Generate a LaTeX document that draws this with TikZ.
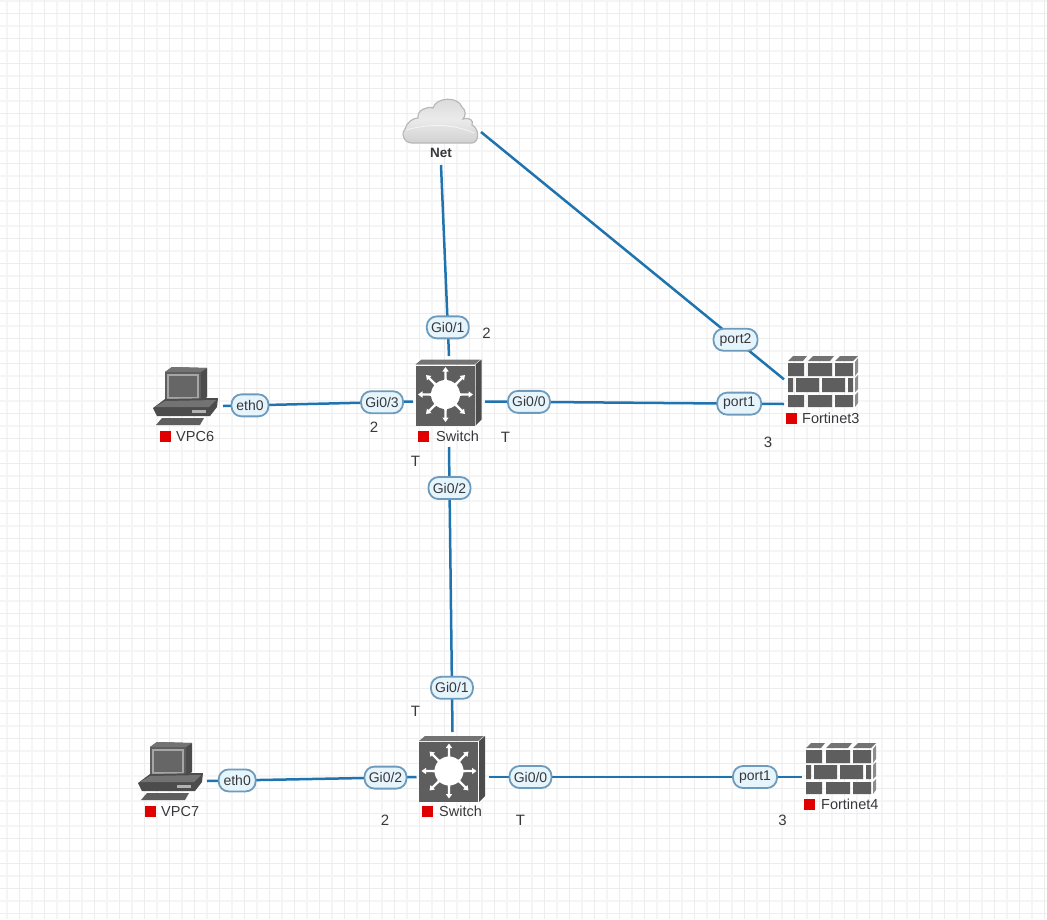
\documentclass[tikz,border=0pt]{standalone}
\usepackage{fontspec}
\setmainfont{Liberation Sans}
\usepackage{xcolor}

\definecolor{linkblue}{HTML}{1F74B0}
\definecolor{portedge}{HTML}{6E9BBB}
\definecolor{portfill}{HTML}{E6F4FC}
\definecolor{icondark}{HTML}{5E5E5E}
\definecolor{iconmid}{HTML}{737373}
\definecolor{iconside}{HTML}{4C4C4C}
\definecolor{ledred}{HTML}{E00000}
\definecolor{inktext}{HTML}{38383C}

\tikzset{
  gridminor/.style={draw=black!4, line width=1.2pt},
  gridmajor/.style={draw=black!7, line width=1.5pt},
  devbox/.style={inner sep=0pt, outer sep=0pt, minimum width=#1},
  link/.style={draw=linkblue, line width=2.5pt},
  portlab/.style={draw=portedge, fill=portfill, line width=1.8pt, rounded corners=10pt, inner sep=0pt, minimum height=22pt, minimum width=42pt, text=inktext, font=\fontsize{14}{16}\selectfont},
  devlab/.style={inner sep=0pt, text=inktext, anchor=west, font=\fontsize{14.5}{16}\selectfont},
  ledbox/.style={fill=ledred, inner sep=0pt, minimum size=11pt},
  vlanlab/.style={inner sep=0pt, text=inktext, font=\fontsize{15}{17}\selectfont},
  pics/swicon/.style={code={
    \fill[iconmid] (-30,-30) -- (-24,-35) -- (35,-35) -- (29,-30) -- cycle;
    \fill[iconside] (30,-30) -- (36,-35) -- (36,25) -- (30,31) -- cycle;
    \fill[icondark] (-30,-29) rectangle (29,31);
    \fill[white] (0,0) circle (14.5);
    \foreach \a in {0,45,...,315}
      \fill[white, rotate=\a] (13,-1.3) -- (23,-1.1) -- (23,-3.2) -- (27.5,0) -- (23,3.2) -- (23,1.1) -- (13,1.3) -- cycle;
  }},
  pics/brickrows/.style={code={
    \fill[icondark] (0,0) rectangle (16,13) (20,0) rectangle (44,13) (47,0) rectangle (65,13);
    \fill[icondark] (0,15) rectangle (5,29) (8,15) rectangle (31,29) (34,15) rectangle (57,29) (60,15) rectangle (65,29);
    \fill[icondark] (0,32) rectangle (16,44) (20,32) rectangle (44,44) (47,32) rectangle (65,44);
    \fill[iconmid] (0,-2) -- (5,-7) -- (19,-7) -- (15,-2) -- cycle;
    \fill[iconmid] (20,-2) -- (25,-7) -- (46,-7) -- (42,-2) -- cycle;
    \fill[iconmid] (47,-2) -- (52,-7) -- (70,-7) -- (65,-2) -- cycle;
    \fill[black!45] (67,-1) -- (70,-5) -- (70,9) -- (67,13) -- cycle;
    \fill[black!45] (67,15) -- (70,12) -- (70,26) -- (67,29) -- cycle;
    \fill[black!45] (67,32) -- (70,29) -- (70,40) -- (67,44) -- cycle;
  }},
  pics/pcicon/.style={code={
    \fill[iconside] (12,4) -- (19,-1) -- (54,0) -- (54,29) -- (49,33) -- (12,33) -- cycle;
    \fill[iconmid] (12,4) -- (19,-1) -- (54,0) -- (48,4) -- cycle;
    \fill[icondark] (12,4) rectangle (48,33);
    \fill[black!35] (14,6) rectangle (46,31);
    \fill[black!60] (16,8) rectangle (44,29);
    \fill[iconside] (0,40) -- (12,31) -- (65,30) -- (64,39) -- (57,48) -- (4,48) -- cycle;
    \fill[iconmid] (2,39) -- (12,33) -- (63,32) -- (56,39) -- cycle;
    \fill[black!30] (39,42) rectangle (53,45);
    \fill[icondark] (9,50) -- (51,50) -- (47,57) -- (3,57) -- cycle;
  }},
  pics/cloudicon/.style={code={
    \draw[draw=black!28, line width=1.2pt, top color=black!15, bottom color=black!18, middle color=black!8]
      (-29,0) .. controls (-38,0) and (-40,-11) .. (-36,-14)
      .. controls (-34,-21) and (-28,-25) .. (-23,-25)
      .. controls (-24,-33) and (-14,-37) .. (-8,-35)
      .. controls (-5,-46) and (17,-47) .. (21,-36)
      .. controls (25,-33) and (25,-27) .. (22,-24)
      .. controls (29,-26) and (33,-22) .. (31,-18)
      .. controls (39,-14) and (38,0) .. (31,0) -- cycle;
    \draw[black!4, line width=.8pt] (-35,-13) .. controls (-10,-20) and (12,-19) .. (33,-10);
  }}
}

\begin{document}
\begin{tikzpicture}[x=1pt, y=-1pt]
\useasboundingbox (0,0) rectangle (1047,919);

\foreach \gx in {7,32,...,1047} \draw[gridminor] (\gx,0) -- (\gx,919);
\foreach \gy in {1,26,...,919} \draw[gridminor] (0,\gy) -- (1047,\gy);
\foreach \gx in {19.5,44.5,...,1047} \draw[gridmajor] (\gx,0) -- (\gx,919);
\foreach \gy in {13.5,38.5,...,919} \draw[gridmajor] (0,\gy) -- (1047,\gy);

\node[devbox=80pt, minimum height=66pt] (net) at (441,132) {};
\node[devbox=72pt, minimum height=91pt] (sw1) at (449,401.5) {};
\node[devbox=72pt, minimum height=90pt] (sw2) at (452.5,777) {};
\node[devbox=76pt, minimum height=98pt] (fw3) at (822,404) {};
\node[devbox=76pt, minimum height=74pt] (fw4) at (840,777) {};
\node[devbox=70pt, minimum height=60pt] (pc6) at (188,406) {};
\node[devbox=70pt, minimum height=60pt] (pc7) at (172,781) {};

\pic at (441,143) {cloudicon};
\pic at (445.5,394.5) {swicon};
\pic at (449,771) {swicon};
\pic at (788,363) {brickrows};
\pic at (806,750) {brickrows};
\pic at (153,368) {pcicon};
\pic at (138,743) {pcicon};

\draw[link] (net.south) -- node[pos=.85, portlab] (sw1p1) {Gi0/1} (sw1.north);
\draw[link] (net.east) -- node[pos=.84, portlab, minimum width=44pt] (fw3p2) {port2} (fw3.147);
\draw[link] (pc6.east) -- node[pos=.142, portlab, minimum width=37pt] (pc6p0) {eth0} node[pos=.837, portlab] (sw1p3) {Gi0/3} (sw1.west);
\draw[link] (sw1.east) -- node[pos=.147, portlab] (sw1p0) {Gi0/0} node[pos=.85, portlab, minimum width=44pt] (fw3p1) {port1} (fw3.west);
\draw[link] (sw1.south) -- node[pos=.144, portlab] (sw1p2) {Gi0/2} node[pos=.845, portlab] (sw2p1) {Gi0/1} (sw2.north);
\draw[link] (pc7.east) -- node[pos=.144, portlab, minimum width=37pt] (pc7p0) {eth0} node[pos=.852, portlab] (sw2p2) {Gi0/2} (sw2.west);
\draw[link] (sw2.east) -- node[pos=.134, portlab] (sw2p0) {Gi0/0} node[pos=.85, portlab, minimum width=44pt] (fw4p1) {port1} (fw4.west);

\node[inner sep=0pt, text=inktext, font=\fontsize{13.5}{15}\selectfont\bfseries] (netlab) at (441,153) {Net};

\node[ledbox] (pc6led) at (165.5,436.5) {};
\node[devlab] (pc6lab) at (176,436.5) {VPC6};
\node[ledbox] (sw1led) at (423.5,436.5) {};
\node[devlab] (sw1lab) at (436,436.5) {Switch};
\node[ledbox] (fw3led) at (791.5,418.5) {};
\node[devlab] (fw3lab) at (802,418.5) {Fortinet3};
\node[ledbox] (pc7led) at (150.5,811.5) {};
\node[devlab] (pc7lab) at (161,811.5) {VPC7};
\node[ledbox] (sw2led) at (427,811) {};
\node[devlab] (sw2lab) at (439,811) {Switch};
\node[ledbox] (fw4led) at (809.5,804.5) {};
\node[devlab] (fw4lab) at (821,804.5) {Fortinet4};

\node[vlanlab] (v1) at (486.5,333) {2};
\node[vlanlab] (v2) at (374,427) {2};
\node[vlanlab] (v3) at (415.5,461) {T};
\node[vlanlab] (v4) at (505.5,437) {T};
\node[vlanlab] (v5) at (768,442) {3};
\node[vlanlab] (v6) at (415.5,711) {T};
\node[vlanlab] (v7) at (385,820) {2};
\node[vlanlab] (v8) at (520.5,820) {T};
\node[vlanlab] (v9) at (782.5,820) {3};
\end{tikzpicture}
\end{document}
